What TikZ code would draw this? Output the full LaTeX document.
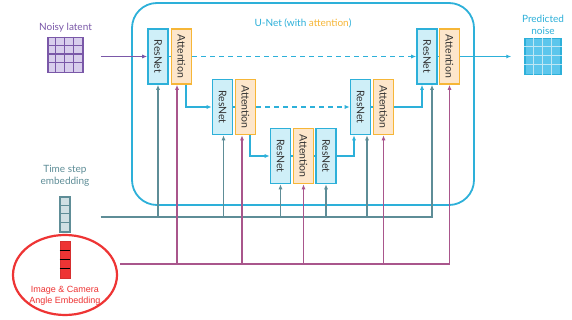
\documentclass[tikz,border=0pt]{standalone}
\usepackage{fontspec}
\setmainfont{Lato}
\newfontfamily\arialfont{Liberation Sans}
\usetikzlibrary{arrows.meta,positioning}
\definecolor{ucyan}{HTML}{2DB0D9}
\definecolor{resfill}{HTML}{CFEFF8}
\definecolor{attline}{HTML}{F6B637}
\definecolor{attfill}{HTML}{FDE6CB}
\definecolor{lpurple}{HTML}{7A58A8}
\definecolor{lfill}{HTML}{D8CEEC}
\definecolor{tgray}{HTML}{5E8D97}
\definecolor{tfill}{HTML}{CFDFE3}
\definecolor{cmauve}{HTML}{A9568C}
\definecolor{ered}{HTML}{EE3434}
\definecolor{pfill}{HTML}{5CC6EC}
\tikzset{
resbox/.style={
  draw=ucyan,
  fill=resfill,
  line width=1.6pt,
  minimum width=20pt,
  minimum height=55pt,
  inner sep=0pt,
  text=black!80,
  font=\fontsize{10.5}{12}\selectfont
  },
attbox/.style={resbox,draw=attline,fill=attfill},
lbl/.style={inner sep=1pt,align=center,font=\fontsize{10}{12}\selectfont},
uline/.style={draw=ucyan,line width=1.2pt},
uarr/.style={uline,-{Latex[length=5pt,width=4pt]}},
tarr/.style={draw=tgray,line width=1.1pt,-{Latex[length=5pt,width=4pt]}},
carr/.style={draw=cmauve,line width=1.1pt,-{Latex[length=5pt,width=4pt]}},
larr/.style={draw=lpurple,line width=1.2pt,-{Latex[length=5pt,width=4pt]}}
}
\newcommand{\vtxt}[1]{\rotatebox{-90}{#1}}

\begin{document}
\begin{tikzpicture}[x=1pt,y=-1pt]
\fill[white] (0,0) rectangle (572,320);
\useasboundingbox (0,0) rectangle (572,320);

% U-Net frame
\node[draw=ucyan,line width=1.8pt,rounded corners=25pt,
  minimum width=342pt,minimum height=202pt] (unet) at (303,104) {};
\node[lbl,text=ucyan] (unetlbl) at ([yshift=-21pt]unet.north)
  {U-Net (with \textcolor{attline}{attention})};

% blocks
\node[resbox] (rL1) at (158,56.5) {\vtxt{ResNet}};
\node[attbox] (aL1) at (181.5,56.5) {\vtxt{Attention}};
\node[resbox] (rL2) at (222.5,107) {\vtxt{ResNet}};
\node[attbox] (aL2) at (245.5,107) {\vtxt{Attention}};
\node[resbox] (rM1) at (280.5,156) {\vtxt{ResNet}};
\node[attbox] (aM) at (303.5,156) {\vtxt{Attention}};
\node[resbox] (rM2) at (326,156) {\vtxt{ResNet}};
\node[resbox] (rR2) at (360.5,107) {\vtxt{ResNet}};
\node[attbox] (aR2) at (383.5,107) {\vtxt{Attention}};
\node[resbox] (rR1) at (427,56.5) {\vtxt{ResNet}};
\node[attbox] (aR1) at (449.5,56.5) {\vtxt{Attention}};

% inputs and output
\node[draw=lpurple,fill=lfill,line width=1.8pt,minimum size=35pt,inner sep=0pt]
  (latent) at (65.5,55) {};
\node[draw=ucyan,fill=pfill,line width=1.5pt,minimum size=36pt,inner sep=0pt]
  (pred) at (543,56.5) {};
\foreach \i in {1,2,3}{
  \draw[lpurple,line width=1.2pt] ([xshift=\i*8.75pt]latent.north west) -- ([xshift=\i*8.75pt]latent.south west);
  \draw[lpurple,line width=1.2pt] ([yshift=-\i*8.75pt]latent.north west) -- ([yshift=-\i*8.75pt]latent.north east);
  \draw[white!70!ucyan,line width=1.2pt] ([xshift=\i*9pt]pred.north west) -- ([xshift=\i*9pt]pred.south west);
  \draw[white!70!ucyan,line width=1.2pt] ([yshift=-\i*9pt]pred.north west) -- ([yshift=-\i*9pt]pred.north east);
}
\node[lbl,text=lpurple,above=3pt of latent] (latentlbl) {Noisy latent};
\node[lbl,text=ucyan,above=2pt of pred] (predlbl) {Predicted\\noise};

\node[draw=tgray,fill=tfill,line width=1.3pt,minimum width=10pt,minimum height=35pt,inner sep=0pt]
  (tstep) at (65,214.5) {};
\node[draw=ered!90!black,fill=ered,line width=0.6pt,minimum width=10pt,minimum height=37pt,inner sep=0pt]
  (cemb) at (65,259.5) {};
\foreach \i in {1,2,3}{
  \draw[tgray,line width=1.1pt] ([yshift=-\i*8.75pt]tstep.north west) -- ([yshift=-\i*8.75pt]tstep.north east);
  \draw[black,line width=0.7pt] ([yshift=-\i*9.25pt]cemb.north west) -- ([yshift=-\i*9.25pt]cemb.north east);
}
\node[lbl,text=tgray,above=9pt of tstep] (tsteplbl) {Time step\\embedding};
\node[lbl,text=ered,below=7pt of cemb,font=\arialfont\fontsize{9}{11}\selectfont]
  (cemblbl) {Image \& Camera\\Angle Embedding};

% main path
\coordinate (lin) at ([xshift=17pt]latent.east);
\draw[larr] (lin |- rL1.west) -- (rL1.west);
\draw[uarr] (aR1.east) -- ([xshift=-13pt]pred.west);
\draw[uline] (rL1.east) -- (aL1.west);
\draw[uline] (rL2.east) -- (aL2.west);
\draw[uline] (rM1.east) -- (aM.west);
\draw[uline] (aM.east) -- (rM2.west);
\draw[uline] (rR2.east) -- (aR2.west);
\draw[uline] (rR1.east) -- (aR1.west);
\draw[uarr,dash pattern=on 5pt off 4pt] (aL1.east) -- (rR1.west);
\draw[uarr,dash pattern=on 5pt off 4pt] (aL2.east) -- (rR2.west);
\draw[uarr] ([xshift=4.5pt]aL1.south) |- (rL2.west);
\draw[uarr] ([xshift=4.5pt]aL2.south) |- (rM1.west);
\draw[uarr] (rM2.east) -| ([xshift=-6.5pt]rR2.south);
\draw[uarr] (aR2.east) -| ([xshift=-5pt]rR1.south);

% time step bus
\coordinate (tbus) at ([xshift=30pt,yshift=-2.5pt]tstep.east);
\coordinate (rR1-t) at ([xshift=5pt]rR1.south);
\draw[tarr] (tbus) -| (rR1-t);
\foreach \n/\s in {rL1/0,rL2/1,rM1/0,rM2/0,rR2/6.5}{
  \coordinate (\n-t) at ([xshift=\s pt]\n.south);
  \draw[tarr] (tbus -| \n-t) -- (\n-t);
}

% image & camera bus
\coordinate (cbus) at ([xshift=50pt,yshift=-4.5pt]cemb.east);
\draw[carr] (cbus) -| (aR1.south);
\foreach \n/\s in {aL1/-4.5,aL2/-3.5,aM/0,aR2/0}{
  \coordinate (\n-c) at ([xshift=\s pt]\n.south);
  \draw[carr] (cbus -| \n-c) -- (\n-c);
}

\draw[ered,line width=2.2pt] (65,275) ellipse [x radius=52pt,y radius=40pt];
\end{tikzpicture}
\end{document}
